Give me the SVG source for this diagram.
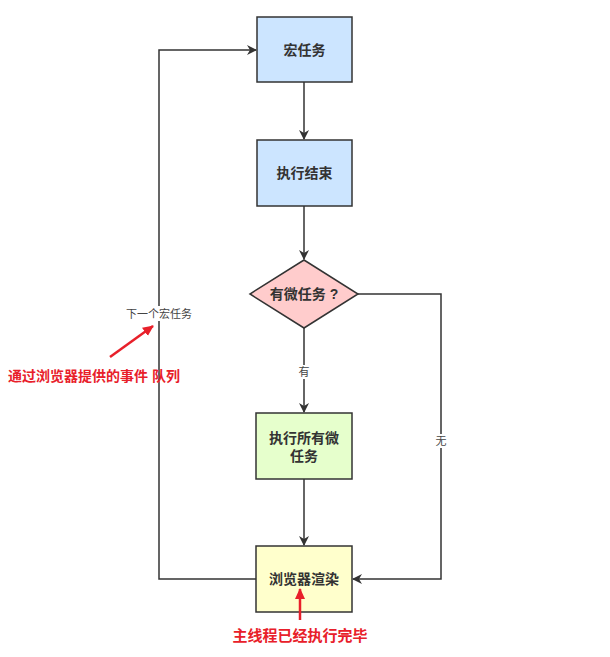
<svg xmlns="http://www.w3.org/2000/svg" width="610" height="657" viewBox="0 0 610 657">
<defs>
<style>
.box{stroke:#333;stroke-width:1.5}
.t{font-family:"Liberation Sans","Noto Sans CJK SC",sans-serif;font-size:14px;font-weight:bold;fill:#333;text-anchor:middle}
.lbl{font-family:"Liberation Sans","Noto Sans CJK SC",sans-serif;font-size:11px;fill:#444;text-anchor:middle}
.red{font-family:"Liberation Sans","Noto Sans CJK SC",sans-serif;font-size:14px;font-weight:bold;fill:#e8202a}
.c{fill:none;stroke:#333;stroke-width:1.5}
.ra{fill:none;stroke:#e8202a;stroke-width:2.5}
</style>
<marker id="ah" markerWidth="10" markerHeight="10" refX="9" refY="5" orient="auto" markerUnits="userSpaceOnUse">
<path d="M0,0 L10,5 L0,10 L3,5 Z" fill="#333"/>
</marker>
<marker id="rh" markerWidth="12" markerHeight="12" refX="10" refY="6" orient="auto" markerUnits="userSpaceOnUse">
<path d="M0,1 L11,6 L0,11 Z" fill="#e8202a"/>
</marker>
</defs>
<rect width="610" height="657" fill="#fff"/>
<g id="connectors">
<path class="c" d="M304,82 V139" marker-end="url(#ah)"/>
<path class="c" d="M304,206 V259" marker-end="url(#ah)"/>
<path class="c" d="M304,328 V412" marker-end="url(#ah)"/>
<path class="c" d="M304,479 V545" marker-end="url(#ah)"/>
<path class="c" d="M358,294 H441 V579 H353" marker-end="url(#ah)"/>
<path class="c" d="M256,579 H159 V50 H256" marker-end="url(#ah)"/>
<rect x="297" y="365" width="14" height="14" fill="#fff"/>
<text class="lbl" x="304" y="376">有</text>
<rect x="434" y="434" width="14" height="14" fill="#fff"/>
<text class="lbl" x="441" y="445">无</text>
<rect x="124" y="306" width="70" height="15" fill="#fff"/>
<text class="lbl" x="159" y="318">下一个宏任务</text>
</g>
<g id="n1"><rect class="box" x="257" y="17" width="95" height="65" fill="#cce5ff"/><text class="t" x="304.5" y="55">宏任务</text></g>
<g id="n2"><rect class="box" x="257" y="140" width="95" height="66" fill="#cce5ff"/><text class="t" x="304.5" y="178">执行结束</text></g>
<g id="n3"><path class="box" d="M304,260 L358,294 L304,328 L250,294 Z" fill="#ffcccc"/><text class="t" x="304" y="299">有微任务 ?</text></g>
<g id="n4"><rect class="box" x="256" y="413" width="96" height="66" fill="#e6ffcc"/><text class="t" x="304" y="443">执行所有微</text><text class="t" x="304" y="461">任务</text></g>
<g id="n5"><rect class="box" x="256" y="546" width="96" height="66" fill="#ffffcc"/><text class="t" x="304" y="584">浏览器渲染</text></g>
<g id="annotations">
<path class="ra" d="M110,357 L153,326" marker-end="url(#rh)"/>
<text class="red" x="8" y="381">通过浏览器提供的事件 队列</text>
<path class="ra" d="M300,620 V589" marker-end="url(#rh)"/>
<text class="red" x="300" y="641" text-anchor="middle" style="font-size:15px">主线程已经执行完毕</text>
</g>
</svg>
